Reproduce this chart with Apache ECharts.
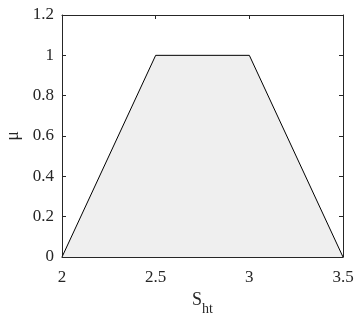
<!DOCTYPE html>
<html>
<head>
<meta charset="utf-8">
<script src="https://cdn.jsdelivr.net/npm/echarts@6/dist/echarts.min.js"></script>
<style>
  html, body { margin: 0; padding: 0; background: #fff; }
  #chart { width: 358px; height: 324px; }
</style>
</head>
<body>
<div id="chart"></div>
<script>
// Trapezoidal membership function breakpoints
const xValues = [2, 2.5, 3, 3.5];
const muValues = [0, 1, 1, 0];
const xTicks = [2, 2.5, 3, 3.5];
const yTicks = [0, 0.2, 0.4, 0.6, 0.8, 1, 1.2];

const font = "'Liberation Serif', 'Times New Roman', serif";
const axisColor = '#262626';

const chart = echarts.init(document.getElementById('chart'), null, { renderer: 'canvas' });

const baseAxis = {
  axisLine: { show: true, onZero: false, lineStyle: { color: axisColor, width: 1 } },
  axisTick: { show: true, inside: true, length: 4, lineStyle: { color: axisColor } },
  splitLine: { show: false }
};

chart.setOption({
  animation: false,
  grid: { left: 62, right: 15, top: 15, bottom: 67, containLabel: false, outerBoundsMode: 'none' },
  xAxis: [
    Object.assign({}, baseAxis, {
      type: 'value', min: 2, max: 3.5, interval: 0.5, position: 'bottom',
      axisLabel: { color: '#262626', fontFamily: font, fontSize: 17, margin: 12,
        formatter: v => xTicks.includes(v) ? String(v) : '' },
      name: '{s|S}{sub|ht}', nameLocation: 'middle', nameGap: 28,
      nameTextStyle: {
        rich: {
          s: { fontFamily: font, fontSize: 18, color: '#262626', verticalAlign: 'top', lineHeight: 22 },
          sub: { fontFamily: font, fontSize: 14, color: '#262626', verticalAlign: 'bottom', lineHeight: 25 }
        }
      }
    }),
    Object.assign({}, baseAxis, {
      type: 'value', min: 2, max: 3.5, interval: 0.5, position: 'top',
      axisLabel: { show: false }
    })
  ],
  yAxis: [
    Object.assign({}, baseAxis, {
      type: 'value', min: 0, max: 1.2, interval: 0.2, position: 'left',
      axisLabel: { color: '#262626', fontFamily: font, fontSize: 17, margin: 8,
        formatter: v => {
          const t = yTicks.find(y => Math.abs(y - v) < 1e-9);
          return t === undefined ? '' : String(t);
        } },
      name: 'μ', nameLocation: 'middle', nameGap: 40,
      nameTextStyle: { fontFamily: font, fontSize: 18, color: '#262626' }
    }),
    Object.assign({}, baseAxis, {
      type: 'value', min: 0, max: 1.2, interval: 0.2, position: 'right',
      axisLabel: { show: false }
    })
  ],
  series: [{
    type: 'line',
    data: xValues.map((x, i) => [x, muValues[i]]),
    symbol: 'none',
    lineStyle: { color: '#000', width: 1 },
    areaStyle: { color: '#efefef', opacity: 1 },
    z: 1
  }]
});
</script>
</body>
</html>
